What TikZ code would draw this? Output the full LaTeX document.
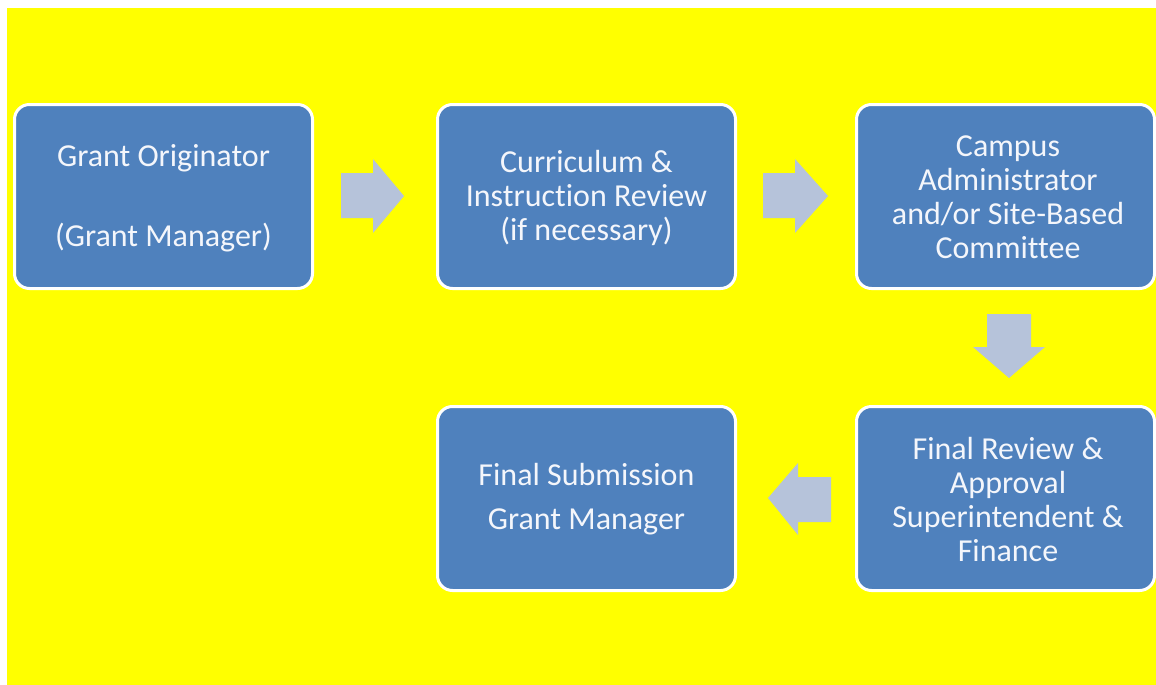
\documentclass[tikz,border=0pt]{standalone}
\usepackage{fontspec}
\setmainfont[Ligatures={NoCommon}]{Carlito}
\definecolor{boxblue}{HTML}{4F81BD}
\definecolor{arrowgray}{HTML}{B6C3DA}
\definecolor{bgyellow}{HTML}{FFFF00}
\definecolor{txt}{HTML}{F4F6FB}
\begin{document}
\begin{tikzpicture}[x=1pt,y=-1pt,
  stepbox/.style={draw=white, line width=3pt, fill=boxblue, rounded corners=15pt,
    minimum width=298pt, minimum height=184pt, inner sep=0pt},
  lbl/.style={text=txt, font=\fontsize{32}{34}\selectfont, align=center},
  blockarrow/.style={fill=arrowgray, draw=none}]
\useasboundingbox (0,0) rectangle (1156,685);
\fill[white] (0,0) rectangle (1156,685);
\fill[bgyellow] (7,8) rectangle (1156,685);
% boxes
\node[stepbox] (b1) at (163.5,196.5) {};
\node[stepbox] (b2) at (586.5,196.5) {};
\node[stepbox] (b3) at (1005.5,196.5) {};
\node[stepbox] (b4) at (1005.5,498.5) {};
\node[stepbox] (b5) at (586.5,498.5) {};
% labels
\node[lbl] (t1a) at (163.5,158) {Grant Originator};
\node[lbl] (t1b) at (163.5,238) {(Grant Manager)};
\node[lbl] (t2) at (586.5,197.5) {Curriculum \&\\Instruction Review\\(if necessary)};
\node[lbl] (t3) at (1008,197.5) {Campus\\Administrator\\and/or Site-Based\\Committee};
\node[lbl] (t4) at (1008,500) {Final Review \&\\Approval\\Superintendent \&\\Finance};
\node[lbl, font=\fontsize{32}{44}\selectfont] (t5) at (586.5,499) {Final Submission\\Grant Manager};
% block arrows
\fill[blockarrow] (341,173) -- (373,173) -- (373,159) -- (404,196) -- (373,233) -- (373,218) -- (341,218) -- cycle;
\fill[blockarrow] (763,173) -- (795,173) -- (795,159) -- (828,196) -- (795,233) -- (795,218) -- (763,218) -- cycle;
\fill[blockarrow] (987,314) -- (1031,314) -- (1031,347) -- (1045,347) -- (1009,378) -- (973,347) -- (987,347) -- cycle;
\fill[blockarrow] (831,477) -- (798,477) -- (798,463) -- (768,498) -- (798,535) -- (798,522) -- (831,522) -- cycle;
\end{tikzpicture}
\end{document}
